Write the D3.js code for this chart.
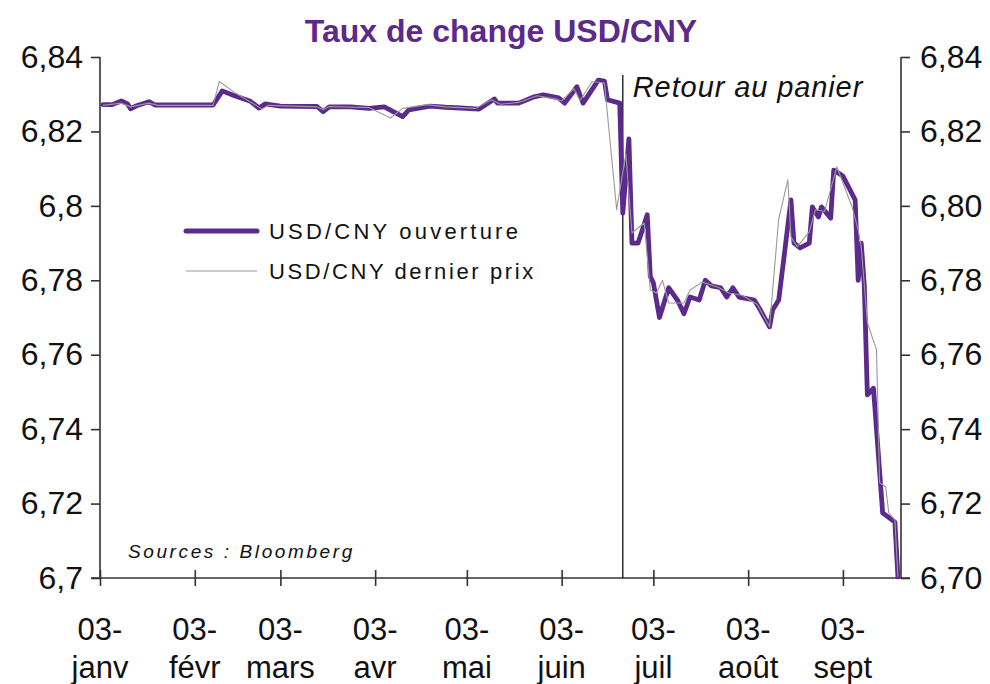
<!DOCTYPE html>
<html><head><meta charset="utf-8">
<script src="https://cdn.jsdelivr.net/npm/d3@7/dist/d3.min.js"></script>
<style>
html,body{margin:0;padding:0;background:#fff;}
svg{display:block;font-family:"Liberation Sans",Arial,sans-serif;}
</style></head>
<body>
<svg id="c" width="990" height="684"></svg>
<script>
const openDates = ["2010-01-04","2010-01-07","2010-01-10","2010-01-12","2010-01-13","2010-01-15","2010-01-19","2010-01-21","2010-01-29","2010-02-09","2010-02-12","2010-02-16","2010-02-21","2010-02-24","2010-02-26","2010-03-03","2010-03-15","2010-03-17","2010-03-19","2010-03-26","2010-04-01","2010-04-06","2010-04-12","2010-04-14","2010-04-21","2010-04-26","2010-05-01","2010-05-07","2010-05-12","2010-05-13","2010-05-20","2010-05-25","2010-05-28","2010-06-02","2010-06-04","2010-06-08","2010-06-10","2010-06-15","2010-06-17","2010-06-18","2010-06-22","2010-06-23","2010-06-25","2010-06-26","2010-06-28","2010-07-01","2010-07-02","2010-07-03","2010-07-05","2010-07-08","2010-07-11","2010-07-13","2010-07-15","2010-07-18","2010-07-20","2010-07-22","2010-07-25","2010-07-27","2010-07-29","2010-07-31","2010-08-05","2010-08-07","2010-08-10","2010-08-11","2010-08-13","2010-08-15","2010-08-17","2010-08-18","2010-08-20","2010-08-23","2010-08-24","2010-08-26","2010-08-27","2010-08-30","2010-08-31","2010-09-03","2010-09-07","2010-09-08","2010-09-09","2010-09-10","2010-09-11","2010-09-13","2010-09-16","2010-09-20","2010-09-21"];
const openValues = [6.8272,6.8272,6.8282,6.8274,6.8261,6.8269,6.8280,6.8271,6.8271,6.8271,6.8309,6.8296,6.8282,6.8263,6.8274,6.8268,6.8267,6.8253,6.8266,6.8266,6.8262,6.8266,6.8240,6.8258,6.8268,6.8265,6.8263,6.8260,6.8287,6.8276,6.8276,6.8293,6.8298,6.8290,6.8276,6.8320,6.8276,6.8338,6.8335,6.8285,6.8276,6.7980,6.8180,6.7900,6.7900,6.7976,6.7810,6.7793,6.7700,6.7780,6.7745,6.7710,6.7755,6.7747,6.7800,6.7785,6.7780,6.7755,6.7780,6.7755,6.7747,6.7720,6.7675,6.7720,6.7747,6.7880,6.8016,6.7900,6.7887,6.7900,6.7997,6.7970,6.7997,6.7967,6.8096,6.8080,6.8016,6.7800,6.7900,6.7785,6.7492,6.7510,6.7175,6.7150,6.7003];

const lastDates = ["2010-01-04","2010-01-10","2010-01-13","2010-01-19","2010-01-22","2010-02-09","2010-02-11","2010-02-16","2010-02-22","2010-02-25","2010-02-27","2010-03-15","2010-03-17","2010-03-19","2010-04-01","2010-04-08","2010-04-12","2010-04-20","2010-04-26","2010-05-06","2010-05-11","2010-05-14","2010-05-20","2010-05-26","2010-06-01","2010-06-03","2010-06-07","2010-06-09","2010-06-13","2010-06-17","2010-06-21","2010-06-24","2010-06-26","2010-06-30","2010-07-02","2010-07-04","2010-07-06","2010-07-08","2010-07-13","2010-07-15","2010-07-19","2010-07-24","2010-07-28","2010-08-01","2010-08-06","2010-08-10","2010-08-13","2010-08-16","2010-08-17","2010-08-19","2010-08-23","2010-08-25","2010-08-28","2010-09-01","2010-09-06","2010-09-08","2010-09-09","2010-09-11","2010-09-14","2010-09-15","2010-09-17","2010-09-18","2010-09-20","2010-09-21"];
const lastValues = [6.8270,6.8276,6.8266,6.8276,6.8270,6.8270,6.8334,6.8305,6.8275,6.8260,6.8270,6.8266,6.8258,6.8267,6.8264,6.8236,6.8262,6.8272,6.8266,6.8262,6.8285,6.8273,6.8278,6.8296,6.8288,6.8282,6.8315,6.8283,6.8334,6.8330,6.7990,6.8140,6.7927,6.7954,6.7774,6.7766,6.7800,6.7739,6.7739,6.7774,6.7795,6.7782,6.7765,6.7760,6.7735,6.7675,6.7965,6.8070,6.7916,6.7890,6.7930,6.7990,6.7985,6.8105,6.7997,6.7935,6.7890,6.7686,6.7613,6.7256,6.7245,6.7175,6.7156,6.7003];

const xTickDates = ["2010-01-03","2010-02-03","2010-03-03","2010-04-03","2010-05-03","2010-06-03","2010-07-03","2010-08-03","2010-09-03"];
const xTickDay = "03-";
const xTickMonths = ["janv","févr","mars","avr","mai","juin","juil","août","sept"];
const yTickValues = [6.70,6.72,6.74,6.76,6.78,6.80,6.82,6.84];
const yLeftLabels = ["6,7","6,72","6,74","6,76","6,78","6,8","6,82","6,84"];
const yRightLabels = ["6,70","6,72","6,74","6,76","6,78","6,80","6,82","6,84"];
const eventDate = "2010-06-23";
const eventLabel = "Retour au panier";
const title = "Taux de change USD/CNY";
const seriesNames = ["USD/CNY ouverture","USD/CNY dernier prix"];
const source = "Sources :  Bloomberg";

const parse = d3.timeParse("%Y-%m-%d");
const W = 990, H = 684;
const m = {left:100, right:89, top:57, bottom:106};
const svg = d3.select("#c");
const purple = "#5b2a8c";

const x = d3.scaleTime().domain([parse("2010-01-03"), parse("2010-09-22")]).range([m.left, W - m.right]);
const y = d3.scaleLinear().domain([6.70, 6.84]).range([H - m.bottom, m.top]);

const openData = openDates.map((d,i)=>({date:parse(d), v:openValues[i]}));
const lastData = lastDates.map((d,i)=>({date:parse(d), v:lastValues[i]}));
const line = d3.line().x(d=>x(d.date)).y(d=>y(d.v));

// title
svg.append("text").attr("x", 501).attr("y", 42).attr("text-anchor","middle")
  .attr("font-size", 32).attr("font-weight","bold").attr("fill", purple).text(title);

const axisColor = "#333";
const gl = svg.append("g").attr("transform",`translate(${m.left},0)`)
  .call(d3.axisLeft(y).tickValues(yTickValues).tickSize(9).tickPadding(8)
    .tickFormat((d,i)=>yLeftLabels[i]));
const gr = svg.append("g").attr("transform",`translate(${W-m.right},0)`)
  .call(d3.axisRight(y).tickValues(yTickValues).tickSize(9).tickPadding(10)
    .tickFormat((d,i)=>yRightLabels[i]));
const gb = svg.append("g").attr("transform",`translate(0,${H-m.bottom})`)
  .call(d3.axisBottom(x).tickValues(xTickDates.map(parse)).tickSize(8).tickFormat(""));
gb.selectAll(".tick line").attr("y1",-8).attr("y2",8);
gb.select(".domain").attr("d", `M${m.left-9},0H${W-m.right+9}`);

[gl,gr,gb].forEach(g=>{
  g.select(".domain").attr("stroke",axisColor).attr("stroke-width",1.6);
  g.selectAll(".tick line").attr("stroke",axisColor).attr("stroke-width",1.6);
  g.selectAll(".tick text").attr("fill","#111").attr("font-size",32)
    .attr("font-family","'Liberation Sans',Arial,sans-serif");
});
gl.select(".domain").attr("d", `M0,${m.top}V${H-m.bottom}`);
gr.select(".domain").attr("d", `M0,${m.top}V${H-m.bottom}`);

const xl = svg.append("g").attr("font-size",31).attr("fill","#111").attr("text-anchor","middle");
xTickDates.forEach((d,i)=>{
  const px = x(parse(d));
  xl.append("text").attr("x",px).attr("y",640).text(xTickDay);
  xl.append("text").attr("x",px).attr("y",678).text(xTickMonths[i]);
});

svg.append("line").attr("x1",x(parse(eventDate))).attr("x2",x(parse(eventDate)))
  .attr("y1",75).attr("y2",H-m.bottom).attr("stroke","#111").attr("stroke-width",1.3);
svg.append("text").attr("x",x(parse(eventDate))+10).attr("y",97)
  .attr("font-size",29).attr("font-style","italic").attr("fill","#111")
  .attr("letter-spacing",0.9).text(eventLabel);

svg.append("path").datum(openData).attr("d",line).attr("fill","none")
  .attr("stroke",purple).attr("stroke-width",4.8).attr("stroke-linejoin","round").attr("stroke-linecap","round");
svg.append("path").datum(lastData).attr("d",line).attr("fill","none")
  .attr("stroke","#9a9a9a").attr("stroke-width",1.1).attr("stroke-linejoin","round");

const lg = svg.append("g");
lg.append("line").attr("x1",186).attr("x2",257).attr("y1",231).attr("y2",231)
  .attr("stroke",purple).attr("stroke-width",5).attr("stroke-linecap","round");
lg.append("line").attr("x1",186).attr("x2",257).attr("y1",271).attr("y2",271)
  .attr("stroke","#9a9a9a").attr("stroke-width",1.2);
lg.append("text").attr("x",269).attr("y",239).attr("font-size",22).attr("letter-spacing",3.2).attr("fill","#111").text(seriesNames[0]);
lg.append("text").attr("x",269).attr("y",279).attr("font-size",22).attr("letter-spacing",2.6).attr("fill","#111").text(seriesNames[1]);

svg.append("text").attr("x",128).attr("y",558).attr("font-size",19).attr("font-style","italic")
  .attr("letter-spacing",2.6).attr("fill","#111").text(source);
</script>
</body></html>
